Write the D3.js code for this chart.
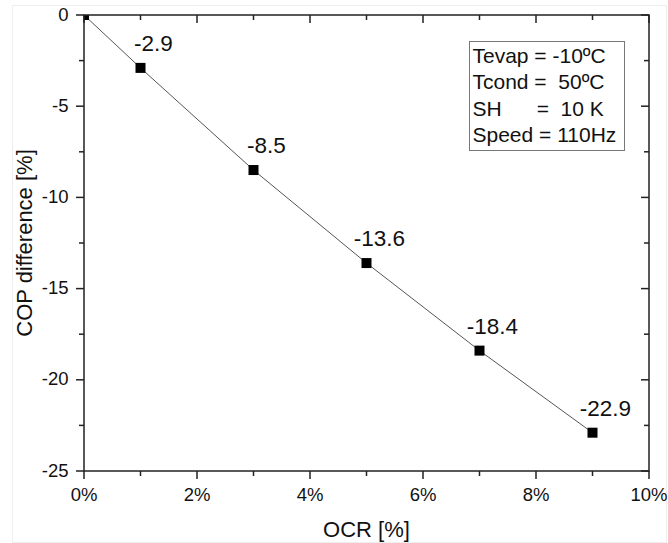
<!DOCTYPE html>
<html>
<head>
<meta charset="utf-8">
<script src="https://cdn.jsdelivr.net/npm/d3@7"></script>
<style>
  body { margin: 0; background: #fff; }
  svg { font-family: "Liberation Sans", Arial, sans-serif; }
</style>
</head>
<body>
<div id="chart"></div>
<script>
// data
var ocr = [0, 1, 3, 5, 7, 9];
var copDiff = [0, -2.9, -8.5, -13.6, -18.4, -22.9];
var pointLabels = ["", "-2.9", "-8.5", "-13.6", "-18.4", "-22.9"];
var legendLines = ["Tevap = -10ºC", "Tcond =  50ºC", "SH      =  10 K", "Speed = 110Hz"];
var xTicks = [0, 2, 4, 6, 8, 10];
var yTicks = [0, -5, -10, -15, -20, -25];

var width = 668, height = 543;
var margin = {left: 84, right: 19, top: 15, bottom: 72};

var svg = d3.select("#chart").append("svg")
  .attr("width", width)
  .attr("height", height);

// faint outer frame
svg.append("rect")
  .attr("x", 12.5).attr("y", 5.5)
  .attr("width", width - 14).attr("height", height - 6)
  .attr("fill", "none").attr("stroke", "#eeeeee");

var x = d3.scaleLinear().domain([0, 10]).range([margin.left, width - margin.right]);
var y = d3.scaleLinear().domain([-25, 0]).range([height - margin.bottom, margin.top]);

var x0 = x.range()[0], x1 = x.range()[1];
var y0 = y.range()[0], y1 = y.range()[1];

svg.append("clipPath").attr("id", "plotclip")
  .append("rect")
  .attr("x", x0).attr("y", y1)
  .attr("width", x1 - x0).attr("height", y0 - y1);

// minor ticks
var g = svg.append("g").attr("stroke", "#222").attr("stroke-width", 1.5);
d3.range(1, 10, 2).forEach(function(v) {
  g.append("line").attr("x1", x(v)).attr("x2", x(v)).attr("y1", y0).attr("y2", y0 + 5);
  g.append("line").attr("x1", x(v)).attr("x2", x(v)).attr("y1", y1).attr("y2", y1 + 5);
});
d3.range(-22.5, 0, 5).forEach(function(v) {
  g.append("line").attr("x1", x0).attr("x2", x0 - 5).attr("y1", y(v)).attr("y2", y(v));
  g.append("line").attr("x1", x1).attr("x2", x1 - 5).attr("y1", y(v)).attr("y2", y(v));
});
// major ticks
xTicks.forEach(function(v) {
  g.append("line").attr("x1", x(v)).attr("x2", x(v)).attr("y1", y0).attr("y2", y0 + 8);
  g.append("line").attr("x1", x(v)).attr("x2", x(v)).attr("y1", y1).attr("y2", y1 + 8);
});
yTicks.forEach(function(v) {
  g.append("line").attr("x1", x0).attr("x2", x0 - 8).attr("y1", y(v)).attr("y2", y(v));
  g.append("line").attr("x1", x1).attr("x2", x1 - 8).attr("y1", y(v)).attr("y2", y(v));
});

// tick labels
svg.selectAll(".xl").data(xTicks).enter().append("text")
  .attr("x", function(d) { return x(d); })
  .attr("y", y0 + 29.5)
  .attr("text-anchor", "middle")
  .attr("font-size", 18.5)
  .attr("fill", "#111")
  .text(function(d) { return d + "%"; });

svg.selectAll(".yl").data(yTicks).enter().append("text")
  .attr("x", x0 - 15.5)
  .attr("y", function(d) { return y(d) + 5.5; })
  .attr("text-anchor", "end")
  .attr("font-size", 18.5)
  .attr("fill", "#111")
  .text(function(d) { return d; });

// axis titles
svg.append("text")
  .attr("x", (x0 + x1) / 2).attr("y", 536.5)
  .attr("text-anchor", "middle").attr("font-size", 22).attr("fill", "#111")
  .text("OCR [%]");
svg.append("text")
  .attr("transform", "translate(31.5," + ((y0 + y1) / 2) + ") rotate(-90)")
  .attr("text-anchor", "middle").attr("font-size", 22).attr("fill", "#111")
  .text("COP difference [%]");

// line
var line = d3.line()
  .x(function(d, i) { return x(ocr[i]); })
  .y(function(d) { return y(d); });
svg.append("path")
  .datum(copDiff)
  .attr("d", line)
  .attr("fill", "none")
  .attr("stroke", "#555")
  .attr("stroke-width", 1);

// markers (clipped to the plot area)
svg.append("g").attr("clip-path", "url(#plotclip)")
  .selectAll(".pt").data(copDiff).enter().append("rect")
  .attr("x", function(d, i) { return x(ocr[i]) - 5; })
  .attr("y", function(d) { return y(d) - 5; })
  .attr("width", 10).attr("height", 10)
  .attr("fill", "#000");

// frame
svg.append("rect")
  .attr("x", x0).attr("y", y1)
  .attr("width", x1 - x0).attr("height", y0 - y1)
  .attr("fill", "none").attr("stroke", "#222").attr("stroke-width", 1.5);

// point labels
svg.selectAll(".pl").data(copDiff).enter().append("text")
  .attr("x", function(d, i) { return x(ocr[i]) + 13; })
  .attr("y", function(d) { return y(d) - 17; })
  .attr("text-anchor", "middle")
  .attr("font-size", 22.5)
  .attr("fill", "#111")
  .text(function(d, i) { return pointLabels[i]; });

// legend box
svg.append("rect")
  .attr("x", 469.5).attr("y", 41.5)
  .attr("width", 155).attr("height", 109)
  .attr("fill", "#fff").attr("stroke", "#777").attr("stroke-width", 1);
svg.selectAll(".lg").data(legendLines).enter().append("text")
  .attr("x", 472.5)
  .attr("y", function(d, i) { return 63.3 + i * 26.1; })
  .attr("font-size", 21)
  .attr("fill", "#111")
  .style("white-space", "pre")
  .text(function(d) { return d; });
</script>
</body>
</html>
